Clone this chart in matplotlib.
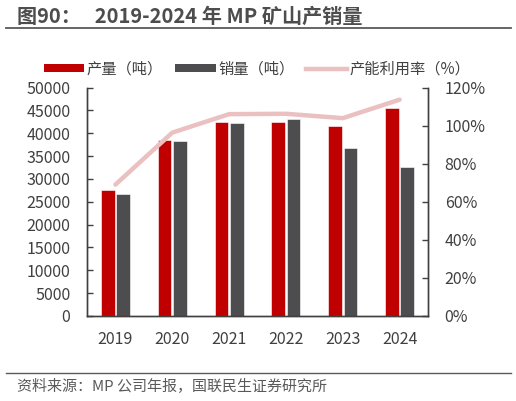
import matplotlib
matplotlib.use("Agg")
import matplotlib.pyplot as plt
from matplotlib.lines import Line2D
from matplotlib.patches import Patch
import numpy as np

plt.rcParams['font.family'] = ['Noto Sans CJK SC', 'DejaVu Sans']

years = ['2019', '2020', '2021', '2022', '2023', '2024']
production = [27620, 38500, 42410, 42500, 41560, 45450]
sales = [26800, 38350, 42150, 43200, 36800, 32600]
utilization = [69.0, 96.3, 106.0, 106.2, 103.9, 113.6]

left_ticks = [0, 5000, 10000, 15000, 20000, 25000, 30000, 35000, 40000, 45000, 50000]
right_ticks = [0, 20, 40, 60, 80, 100, 120]

RED = '#C00000'
GRAY = '#4D4D4F'
PINK = '#EBC0C0'
TXT = '#404040'
SPINE = '#404040'

fig = plt.figure(figsize=(5.16, 4.01), dpi=100)
ax = fig.add_axes([87/516, 1-316/401, (428-87)/516, (316-87.5)/401])
ax2 = ax.twinx()

x = np.arange(len(years))
w = 0.24
ax.bar(x - 0.135, production, width=w, color=RED, edgecolor='white', linewidth=0.4, zorder=2)
ax.bar(x + 0.135, sales, width=w, color=GRAY, edgecolor='white', linewidth=0.4, zorder=2)
ax2.plot(x, utilization, color=PINK, linewidth=3.2, solid_capstyle='round', zorder=3)

ax.set_xlim(-0.5, len(years) - 0.5)
ax.set_ylim(0, 50000)
ax.set_yticks(left_ticks)
ax.set_yticklabels([str(v) for v in left_ticks])
ax2.set_ylim(0, 120)
ax2.set_yticks(right_ticks)
ax2.set_yticklabels([f'{v}%' for v in right_ticks])
ax.set_xticks(x)
ax.set_xticklabels(years)

for a in (ax, ax2):
    for s in a.spines.values():
        s.set_color(SPINE)
        s.set_linewidth(1.0)
    a.spines['top'].set_visible(False)

ax.tick_params(axis='y', direction='in', length=4, width=1, color=SPINE,
               labelsize=11.5, labelcolor=TXT, pad=12)
ax2.tick_params(axis='y', direction='in', length=4, width=1, color=SPINE,
                labelsize=11.5, labelcolor=TXT, pad=12)
ax.tick_params(axis='x', length=0, labelsize=11.5, labelcolor=TXT, pad=11)

# Title
fig.text(17/516, 1-16/401, '图90：   2019-2024 年 MP 矿山产销量', fontsize=14.5,
         fontweight='bold', color='#4D4D4D', va='center', ha='left')
fig.add_artist(Line2D([6/516, 511/516], [1-28/401, 1-28/401], color='#595959', linewidth=1.3))

# Legend
handles = [Patch(facecolor=RED, edgecolor='none'),
           Patch(facecolor=GRAY, edgecolor='none'),
           Line2D([0], [0], color=PINK, linewidth=3.2)]
labels = ['产量（吨）', '销量（吨）', '产能利用率（%）']
fig.legend(handles, labels, loc='center', bbox_to_anchor=(257/516, 1-69/401), ncol=3,
           frameon=False, fontsize=11, labelcolor=TXT, handlelength=2.65, handleheight=0.5,
           handletextpad=0.15, columnspacing=0.8)

# Footer
fig.add_artist(Line2D([6/516, 511/516], [1-373/401, 1-373/401], color='#595959', linewidth=1.0))
fig.text(17/516, 1-387/401, '资料来源：MP 公司年报，国联民生证券研究所', fontsize=10.8,
         color='#595959', va='center', ha='left')

fig.savefig('out.png', dpi=100)
